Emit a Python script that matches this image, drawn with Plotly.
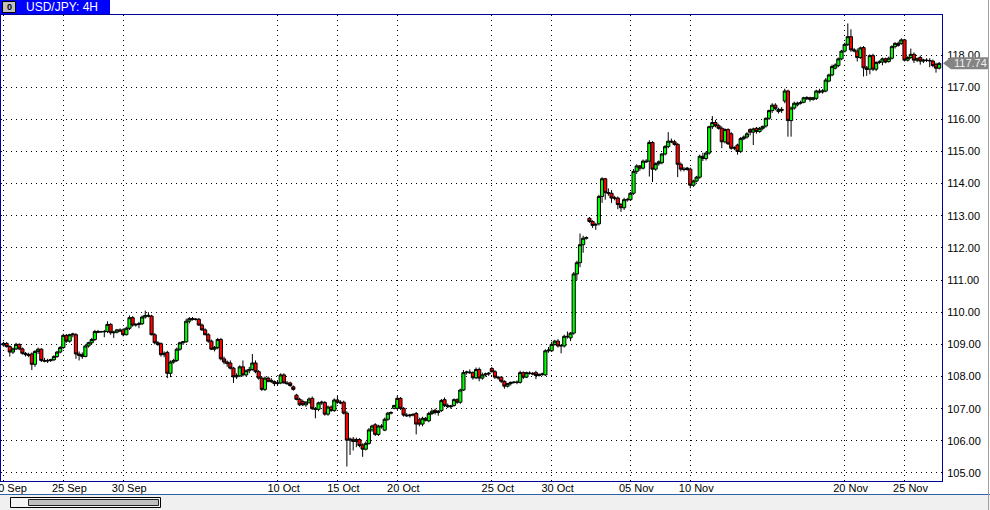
import plotly.graph_objects as go

# ---------------- data (USD/JPY 4H candles) ----------------
opens = [
    108.98,109.03,108.93,108.76,108.86,109.00,108.86,108.72,108.68,108.70,
    108.38,108.78,108.85,108.50,108.48,108.50,108.52,108.62,108.76,108.90,
    109.28,109.10,109.30,109.30,108.70,108.68,108.62,108.95,109.05,109.15,
    109.40,109.40,109.39,109.40,109.62,109.36,109.38,109.45,109.45,109.30,
    109.50,109.83,109.60,109.62,109.64,109.85,109.90,109.88,109.30,109.05,
    109.02,108.68,108.75,108.10,108.45,108.50,108.85,109.05,109.08,109.72,
    109.80,109.78,109.78,109.60,109.45,109.30,109.10,108.85,108.90,109.15,
    108.55,108.45,108.42,108.26,107.99,108.02,108.30,108.05,108.18,108.22,
    108.42,108.15,107.95,107.60,107.95,107.88,107.84,107.78,107.80,108.05,
    107.80,107.80,107.68,107.42,107.29,107.22,107.12,107.20,107.32,107.00,
    106.98,107.18,107.19,106.83,107.05,106.94,107.27,107.20,107.20,106.86,
    106.02,106.05,105.98,106.04,105.87,105.74,105.92,106.34,106.50,106.20,
    106.46,106.33,106.67,106.86,107.01,107.01,107.32,107.01,106.80,106.78,
    106.80,106.85,106.65,106.52,106.70,106.62,106.85,106.95,106.88,106.94,
    107.28,107.10,107.06,107.10,107.28,107.20,107.58,108.12,108.14,108.12,
    107.96,108.22,107.95,108.05,108.08,108.25,108.15,107.98,107.98,107.85,
    107.70,107.78,107.82,107.82,107.82,108.12,107.98,108.10,108.10,108.12,
    108.03,108.06,108.05,108.80,108.80,109.00,109.10,108.95,108.95,109.25,
    109.20,109.35,111.19,111.54,112.10,112.30,112.92,112.82,112.72,112.75,
    113.60,114.15,113.72,113.70,113.55,113.55,113.35,113.25,113.50,113.50,
    113.70,114.38,114.55,114.48,114.70,114.70,115.28,114.45,114.62,114.65,
    114.92,115.15,115.32,115.30,115.22,114.60,114.45,114.44,114.45,113.95,
    114.08,114.20,114.85,114.78,114.95,115.77,115.90,115.80,115.72,115.30,
    115.68,115.55,115.10,115.20,115.00,115.40,115.45,115.68,115.60,115.72,
    115.62,115.72,115.79,116.03,116.27,116.44,116.24,116.31,116.57,116.88,
    115.96,116.35,116.45,116.50,116.53,116.64,116.67,116.62,116.65,116.88,
    116.85,116.88,117.19,117.38,117.59,117.67,117.88,118.12,118.33,118.57,
    118.16,118.12,117.92,118.23,117.60,117.56,117.98,117.56,117.77,117.78,
    117.88,117.80,117.90,118.26,118.36,118.36,118.47,117.84,117.92,118.02,
    117.84,117.92,117.81,117.84,117.83,117.81,117.71,117.59,
]
highs = [
    109.08,109.07,108.97,108.90,109.05,109.03,108.90,108.76,108.74,108.75,
    108.82,108.90,108.88,108.58,108.55,108.55,108.66,108.80,108.95,109.33,
    109.32,109.33,109.36,109.35,108.78,108.75,109.00,109.08,109.20,109.45,
    109.45,109.42,109.45,109.72,109.66,109.42,109.48,109.50,109.50,109.55,
    109.90,109.88,109.66,109.70,109.90,110.05,110.00,109.92,109.35,109.10,
    109.06,108.78,108.80,108.50,108.55,108.90,109.08,109.10,109.80,109.85,
    109.85,109.82,109.82,109.65,109.50,109.35,109.15,108.95,109.20,109.20,
    108.62,108.50,108.50,108.30,108.10,108.35,108.50,108.22,108.30,108.70,
    108.50,108.20,108.00,108.00,108.00,107.95,107.88,107.86,108.10,108.10,
    107.86,107.84,107.72,107.46,107.34,107.28,107.24,107.35,107.38,107.05,
    107.22,107.25,107.24,107.10,107.10,107.32,107.40,107.26,107.25,106.92,
    106.10,106.12,106.10,106.08,105.92,105.98,106.40,106.50,106.55,106.50,
    106.52,106.72,106.90,106.92,107.12,107.40,107.36,107.05,106.86,106.84,
    106.86,106.90,106.72,106.75,106.74,106.90,106.98,107.00,106.96,107.30,
    107.35,107.16,107.12,107.32,107.32,107.62,108.20,108.18,108.22,108.16,
    108.28,108.28,108.12,108.12,108.14,108.30,108.20,108.02,108.00,107.88,
    107.80,107.84,107.86,107.88,108.18,108.16,108.15,108.16,108.14,108.18,
    108.10,108.12,108.85,108.92,109.08,109.14,109.16,109.00,109.30,109.40,
    109.38,111.25,111.60,112.45,112.38,112.36,112.96,112.86,112.78,113.65,
    114.20,114.18,113.85,113.80,113.62,113.60,113.40,113.56,113.56,113.74,
    114.45,114.60,114.58,114.75,114.76,115.35,115.32,114.66,114.72,114.95,
    115.20,115.60,115.40,115.36,115.26,114.66,114.52,114.52,114.50,114.12,
    114.24,114.90,114.96,115.00,115.80,116.10,115.98,115.86,115.78,115.72,
    115.72,115.60,115.16,115.24,115.45,115.50,115.60,115.72,115.74,115.76,
    115.76,115.80,116.06,116.30,116.50,116.50,116.36,116.38,116.95,116.92,
    116.40,116.55,116.55,116.58,116.70,116.72,116.70,116.70,116.92,116.95,
    116.94,117.28,117.42,117.70,117.74,117.92,118.16,118.38,118.98,118.80,
    118.22,118.20,118.26,118.28,117.66,118.02,118.04,117.80,117.84,117.92,
    117.92,117.95,118.30,118.40,118.42,118.52,118.50,117.96,118.20,118.08,
    117.92,117.98,117.88,117.90,117.90,117.86,117.76,117.78,
]
lows = [
    108.93,108.90,108.62,108.70,108.82,108.82,108.68,108.62,108.60,108.20,
    108.30,108.70,108.45,108.44,108.42,108.45,108.48,108.58,108.72,108.86,
    109.05,109.05,109.22,108.55,108.50,108.55,108.60,108.90,109.00,109.10,
    109.35,109.36,109.22,109.35,109.30,109.20,109.34,109.38,109.25,109.28,
    109.45,109.55,109.55,109.50,109.60,109.80,109.84,109.28,109.00,108.95,
    108.62,108.60,107.95,107.98,108.40,108.45,108.80,108.98,109.05,109.65,
    109.74,109.74,109.58,109.42,109.28,109.05,108.82,108.78,108.85,108.50,
    108.38,108.30,108.22,107.80,107.92,107.98,108.00,108.00,108.10,108.18,
    108.10,107.90,107.55,107.55,107.82,107.80,107.70,107.72,107.76,107.78,
    107.74,107.68,107.56,107.26,107.08,107.08,107.06,107.15,106.96,106.70,
    106.92,107.12,106.78,106.78,106.90,106.90,107.15,107.14,106.82,105.20,
    105.56,105.70,105.80,105.80,105.50,105.70,105.88,106.28,106.15,106.15,
    106.38,106.30,106.62,106.82,106.98,106.95,106.96,106.75,106.74,106.72,
    106.76,106.20,106.45,106.45,106.60,106.58,106.80,106.82,106.78,106.90,
    107.05,107.02,107.00,107.06,107.15,107.15,107.55,108.06,108.08,107.90,
    107.92,107.85,107.90,108.00,108.02,108.12,107.92,107.90,107.80,107.62,
    107.66,107.72,107.78,107.76,107.78,107.92,107.95,108.06,108.04,107.92,
    108.00,108.02,108.02,108.74,108.76,108.96,108.90,108.72,108.90,109.18,
    109.10,109.30,111.00,111.40,111.85,112.26,112.78,112.62,112.56,112.70,
    113.40,113.50,113.62,113.40,113.48,113.20,113.12,113.18,113.44,113.46,
    113.65,114.30,114.40,114.44,114.64,114.22,114.05,114.40,114.56,114.60,
    114.88,115.10,115.26,115.18,114.20,114.38,114.38,114.40,113.85,113.90,
    114.04,114.15,114.70,114.72,114.90,115.70,115.75,115.68,115.10,115.25,
    115.20,115.05,115.04,114.90,114.95,115.35,115.40,115.50,115.20,115.55,
    115.58,115.66,115.74,115.98,116.20,116.28,116.18,116.20,116.50,115.46,
    115.46,116.30,116.40,116.46,116.50,116.60,116.55,116.58,116.60,116.80,
    116.80,116.84,117.15,117.34,117.55,117.62,117.84,118.08,118.28,118.10,
    118.08,117.80,117.88,117.33,117.35,117.40,117.50,117.50,117.72,117.68,
    117.74,117.76,117.86,118.20,118.26,118.32,117.80,117.80,117.88,117.75,
    117.78,117.70,117.75,117.78,117.62,117.62,117.45,117.55,
]
closes = [
    109.03,108.93,108.76,108.86,109.00,108.86,108.72,108.68,108.66,108.38,
    108.78,108.85,108.50,108.48,108.50,108.52,108.62,108.76,108.90,109.28,
    109.10,109.30,109.32,108.70,108.66,108.62,108.95,109.05,109.15,109.40,
    109.38,109.39,109.40,109.62,109.36,109.38,109.45,109.42,109.30,109.50,
    109.83,109.60,109.62,109.64,109.85,109.90,109.88,109.30,109.05,109.00,
    108.68,108.72,108.10,108.45,108.50,108.85,109.05,109.08,109.72,109.80,
    109.78,109.78,109.60,109.45,109.30,109.10,108.85,108.90,109.15,108.55,
    108.45,108.40,108.26,107.99,108.02,108.30,108.05,108.18,108.22,108.42,
    108.15,107.95,107.60,107.95,107.85,107.84,107.78,107.80,108.05,107.80,
    107.78,107.72,107.60,107.29,107.12,107.12,107.20,107.30,107.00,106.98,
    107.18,107.20,106.83,107.05,106.94,107.27,107.20,107.18,106.86,106.02,
    106.05,105.98,106.04,105.85,105.74,105.92,106.34,106.46,106.20,106.46,
    106.44,106.67,106.86,106.88,107.10,107.32,107.01,106.80,106.78,106.80,
    106.82,106.52,106.52,106.70,106.64,106.85,106.92,106.88,106.92,107.25,
    107.10,107.06,107.08,107.28,107.20,107.58,108.12,108.14,108.12,107.96,
    108.22,107.95,108.05,108.08,108.10,108.15,107.98,107.96,107.85,107.70,
    107.78,107.82,107.82,107.82,108.12,107.98,108.12,108.10,108.08,108.03,
    108.06,108.08,108.80,108.82,109.00,109.10,108.95,108.96,109.25,109.24,
    109.35,111.19,111.54,112.10,112.30,112.32,112.82,112.70,112.72,113.60,
    114.15,113.72,113.70,113.55,113.55,113.35,113.25,113.50,113.50,113.70,
    114.38,114.55,114.48,114.70,114.68,115.28,114.45,114.62,114.68,114.92,
    115.15,115.32,115.30,115.22,114.60,114.45,114.44,114.48,113.95,114.08,
    114.20,114.85,114.78,114.95,115.77,115.90,115.80,115.72,115.30,115.68,
    115.24,115.10,115.12,115.00,115.40,115.45,115.55,115.60,115.70,115.62,
    115.72,115.78,116.03,116.27,116.44,116.34,116.31,116.28,116.88,115.96,
    116.35,116.50,116.50,116.52,116.67,116.67,116.62,116.67,116.88,116.85,
    116.88,117.22,117.38,117.64,117.69,117.88,118.12,118.33,118.57,118.16,
    118.13,117.92,118.22,117.60,117.55,117.98,117.56,117.77,117.78,117.88,
    117.78,117.90,118.26,118.36,118.30,118.47,117.84,117.92,118.02,117.84,
    117.88,117.81,117.84,117.83,117.82,117.67,117.59,117.74,
]

date_tick_index = [0, 19, 38, 87, 106, 125, 155, 174, 199, 218, 267, 286]
date_tick_labels = ["20 Sep", "25 Sep", "30 Sep", "10 Oct", "15 Oct", "20 Oct",
                    "25 Oct", "30 Oct", "05 Nov", "10 Nov", "20 Nov", "25 Nov"]
price_ticks = [105, 106, 107, 108, 109, 110, 111, 112, 113, 114, 115, 116, 117, 118]
chart_title = "USD/JPY: 4H"

# ---------------- layout geometry (pixels) ----------------
W, H = 990, 510
PL, PR, PT, PB = 1, 942, 15, 481
FONT = "Liberation Sans, Arial, sans-serif"
FRAME = "#00009c"
Y0, Y1 = 104.75, 119.244


def fx(px):
    return (px - PL) / (PR - PL)


def fy(py):
    return (PB - py) / (PB - PT)


x = list(range(len(closes)))

fig = go.Figure(go.Candlestick(
    x=x, open=opens, high=highs, low=lows, close=closes,
    increasing=dict(line=dict(color="black", width=1), fillcolor="#00ff00"),
    decreasing=dict(line=dict(color="black", width=1), fillcolor="#ff0000"),
    whiskerwidth=0, hoverinfo="skip", showlegend=False,
))

grid = dict(showgrid=True, gridcolor="#000000", gridwidth=1, griddash="1px,4px")

fig.update_layout(
    template="none",
    width=W, height=H,
    margin=dict(l=PL, r=W - PR, t=PT, b=H - PB, pad=0, autoexpand=False),
    paper_bgcolor="white", plot_bgcolor="white",
    boxgap=0.0, boxgroupgap=0.0,
    hovermode=False,
    showlegend=False,
    xaxis=dict(
        range=[-0.79, 297.9], autorange=False, automargin=False,
        tickmode="array", tickvals=date_tick_index, ticktext=date_tick_labels,
        ticks="", ticklabelshift=6, ticklabelstandoff=-3, ticklabeloverflow="allow",
        tickfont=dict(family=FONT, size=11, color="black"),
        showline=True, mirror=True, linecolor=FRAME, linewidth=1,
        zeroline=False, rangeslider=dict(visible=False), fixedrange=True,
        **grid,
    ),
    yaxis=dict(
        side="right", range=[Y0, Y1], autorange=False, automargin=False,
        tickmode="array", tickvals=price_ticks,
        ticktext=[f"{v:.2f}" for v in price_ticks],
        ticks="", ticklabelstandoff=2,
        tickfont=dict(family=FONT, size=11, color="black"),
        showline=True, mirror=True, linecolor=FRAME, linewidth=1,
        zeroline=False, fixedrange=True,
        **grid,
    ),
)

shapes = []
# bottom scroll-bar strip
shapes.append(dict(type="rect", xref="paper", yref="paper",
                   x0=fx(-2), x1=fx(W + 2), y0=fy(494), y1=fy(H + 2),
                   fillcolor="#f0f0f0", line=dict(width=0), layer="above"))
shapes.append(dict(type="line", xref="paper", yref="paper",
                   x0=fx(0), x1=fx(W), y0=fy(494.5), y1=fy(494.5),
                   line=dict(color="#2f62a8", width=1), layer="above"))
shapes.append(dict(type="rect", xref="paper", yref="paper",
                   x0=fx(10.5), x1=fx(160.5), y0=fy(497.5), y1=fy(507.5),
                   fillcolor="#f4f4f4", line=dict(color="black", width=1), layer="above"))
shapes.append(dict(type="rect", xref="paper", yref="paper",
                   x0=fx(28.5), x1=fx(158.5), y0=fy(499.5), y1=fy(505.5),
                   fillcolor="#c0c0c0", line=dict(color="#202020", width=1), layer="above"))
# right window edge
shapes.append(dict(type="line", xref="paper", yref="paper",
                   x0=fx(988.5), x1=fx(988.5), y0=fy(0), y1=fy(H),
                   line=dict(color="#a0a0a0", width=1), layer="above"))
# title bar
shapes.append(dict(type="rect", xref="paper", yref="paper",
                   x0=fx(0), x1=fx(110), y0=fy(0), y1=fy(14),
                   fillcolor="#0000ff", line=dict(width=0), layer="above"))
shapes.append(dict(type="rect", xref="paper", yref="paper",
                   x0=fx(2.5), x1=fx(15.5), y0=fy(1.5), y1=fy(12.5),
                   fillcolor="#c0c0c0", line=dict(color="black", width=1), layer="above"))
# last price tag (arrow shaped)
last = closes[-1]
hh = 6 / ((PB - PT) / (Y1 - Y0))
tip, body, right = fx(943), fx(951), fx(988)
path = (f"M {tip},{last} L {body},{last + hh} L {right},{last + hh} "
        f"L {right},{last - hh} L {body},{last - hh} Z")
shapes.append(dict(type="path", xref="paper", yref="y", path=path,
                   fillcolor="#848484", line=dict(width=0), layer="above"))
fig.update_layout(shapes=shapes)

annotations = [
    dict(xref="paper", yref="paper", x=fx(24), y=fy(7), text=chart_title,
         showarrow=False, xanchor="left", yanchor="middle",
         font=dict(family=FONT, size=12, color="white")),
    dict(xref="paper", yref="paper", x=fx(9), y=fy(7), text="<b>0</b>",
         showarrow=False, xanchor="center", yanchor="middle",
         font=dict(family=FONT, size=9, color="black")),
    dict(xref="paper", yref="y", x=fx(952), y=last, text=f"{last:.2f}",
         showarrow=False, xanchor="left", yanchor="middle",
         font=dict(family=FONT, size=11, color="#f0f0f0")),
]
fig.update_layout(annotations=annotations)

fig.write_html(
    "out.html",
    config={"displayModeBar": False},
    post_script="document.body.style.margin='0';document.body.style.overflow='hidden';",
)
